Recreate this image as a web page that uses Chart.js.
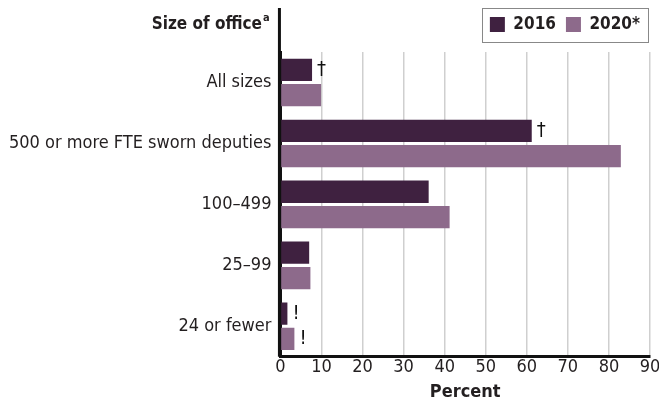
<!DOCTYPE html>
<html>
<head>
<meta charset="utf-8">
<script src="https://cdn.jsdelivr.net/npm/chart.js@4"></script>
<style>
  html, body { margin: 0; padding: 0; background: #fff; }
  #wrap { width: 659px; height: 413px; position: relative; }
</style>
</head>
<body>
<div id="wrap"><canvas id="chart"></canvas></div>
<script>
// ===== Size of office chart =====

const categories = ["All sizes", "500 or more FTE sworn deputies", "100\u2013499", "25\u201399", "24 or fewer"];
const values2016 = [7.7, 61.2, 36.1, 7.0, 1.7];
const values2020 = [9.9, 82.9, 41.2, 7.3, 3.4];
// footnote marks drawn after each bar
const marks2016 = ["\u2020", "\u2020", "", "", "!"];
const marks2020 = ["", "", "", "", "!"];
const xTicks = [0, 10, 20, 30, 40, 50, 60, 70, 80, 90];

const FONT = "'DejaVu Sans Condensed', 'Liberation Sans Narrow', sans-serif";

// draws the title, the tall left axis, the legend frame and the marks
const extras = {
  id: "extras",
  afterDraw(chart) {
    const ctx = chart.ctx;
    const area = chart.chartArea;
    ctx.save();

    // left axis running up to the title
    ctx.strokeStyle = "#111";
    ctx.lineWidth = 3;
    ctx.beginPath();
    ctx.moveTo(area.left - 1, 8);
    ctx.lineTo(area.left - 1, area.bottom);
    ctx.stroke();

    // title
    ctx.fillStyle = "#231f20";
    ctx.font = "bold 17px " + FONT;
    ctx.textAlign = "right";
    ctx.textBaseline = "alphabetic";
    ctx.fillText("Size of office", 262, 29);
    ctx.font = "bold 11px " + FONT;
    ctx.textAlign = "left";
    ctx.fillText("a", 263, 21);

    // legend frame round the legend items
    const boxes = chart.legend.legendHitBoxes;
    if (boxes && boxes.length) {
      const first = boxes[0], last = boxes[boxes.length - 1];
      const x0 = Math.round(first.left) - 7.5;
      const x1 = Math.round(last.left + last.width) + 8.5;
      const yc = first.top + first.height / 2;
      ctx.strokeStyle = "#888";
      ctx.lineWidth = 1;
      ctx.strokeRect(x0, Math.round(yc - 17) + 0.5, x1 - x0, 34);
    }

    // marks
    ctx.fillStyle = "#111";
    ctx.font = "20px " + FONT;
    ctx.textAlign = "left";
    ctx.textBaseline = "middle";
    [marks2016, marks2020].forEach((marks, d) => {
      const meta = chart.getDatasetMeta(d);
      meta.data.forEach((bar, i) => {
        if (!marks[i]) return;
        ctx.fillText(marks[i], bar.x + 5, bar.y);
      });
    });
    ctx.restore();
  }
};

new Chart(document.getElementById("chart"), {
  type: "bar",
  data: {
    labels: categories,
    datasets: [
      { label: "2016", data: values2016, backgroundColor: "#3f2140" },
      { label: "2020*", data: values2020, backgroundColor: "#8d6a8b" }
    ]
  },
  options: {
    indexAxis: "y",
    responsive: true,
    maintainAspectRatio: false,
    animation: false,
    categoryPercentage: 0.83,
    barPercentage: 0.88,
    layout: { padding: { left: 0, right: 9, top: 6, bottom: 10 } },
    scales: {
      x: {
        min: 0,
        max: 90,
        afterBuildTicks(axis) {
          axis.ticks = xTicks.map(v => ({ value: v }));
        },
        afterFit(axis) {
          // let the last label run past the edge, as in the print
          axis.paddingRight = 0;
        },
        grid: { color: "#cfcfcf", lineWidth: 1.5, drawTicks: false },
        border: { color: "#111", width: 3 },
        ticks: {
          color: "#231f20",
          font: { family: FONT, size: 18 },
          padding: 0
        },
        title: {
          display: true,
          text: "Percent",
          color: "#231f20",
          font: { family: FONT, size: 18, weight: "bold" },
          padding: { top: 3, bottom: 0 }
        }
      },
      // empty top band that spaces the legend from the bars
      xTop: {
        axis: "x",
        position: "top",
        grid: { display: false },
        border: { display: false },
        ticks: { display: false },
        afterFit(axis) {
          axis.height = 9;
        }
      },
      y: {
        grid: { display: false, drawTicks: false },
        border: { color: "#111", width: 3 },
        ticks: {
          color: "#231f20",
          font: { family: FONT, size: 18 },
          padding: 9
        }
      }
    },
    plugins: {
      legend: {
        position: "top",
        align: "end",
        labels: {
          color: "#231f20",
          font: { family: FONT, size: 17, weight: "bold" },
          boxWidth: 15,
          boxHeight: 15,
          padding: 10
        }
      },
      tooltip: { enabled: false }
    }
  },
  plugins: [extras]
});
</script>
</body>
</html>
